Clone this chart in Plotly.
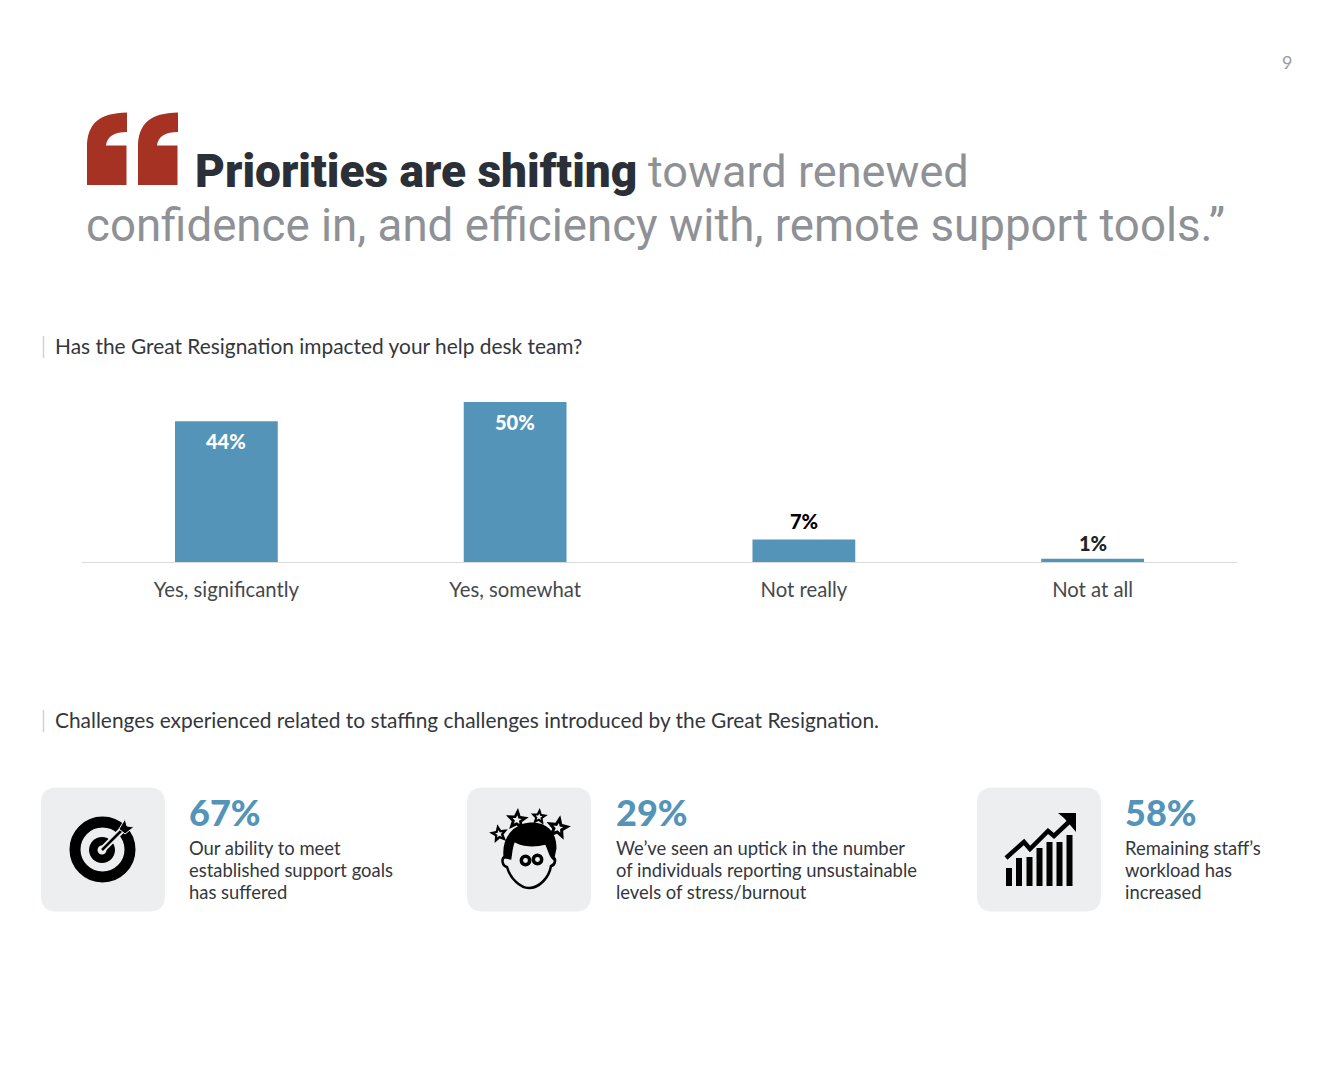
import math
import plotly.graph_objects as go

# Survey data
CATEGORIES = ["Yes, significantly", "Yes, somewhat", "Not really", "Not at all"]
VALUES = [44, 50, 7, 1]
BAR_LABELS = ["44%", "50%", "7%", "1%"]
LABEL_COLORS = ["white", "white", "black", "#222222"]

STAT_VALUES = ["67%", "29%", "58%"]
STAT_TEXTS = [
    "Our ability to meet<br>established support goals<br>has suffered",
    "We’ve seen an uptick in the number<br>of individuals reporting unsustainable<br>levels of stress/burnout",
    "Remaining staff’s<br>workload has<br>increased",
]
STAT_X = [189, 616, 1125]
CARD_X = [41, 467, 977]

W, H = 1331, 1080
BLUE = "#5494b9"
RED = "#a63223"
DARK = "#2b3038"
GREY = "#8e9195"
CARD = "#edeef0"
CLEAR = "rgba(0,0,0,0)"
TITLE_FONT = "Roboto"
BODY_FONT = "Lato"


def rounded_rect(x, y, size, r):
    return (f"M{x+r},{y} H{x+size-r} Q{x+size},{y} {x+size},{y+r} V{y+size-r} "
            f"Q{x+size},{y+size} {x+size-r},{y+size} H{x+r} Q{x},{y+size} {x},{y+size-r} "
            f"V{y+r} Q{x},{y} {x+r},{y} Z")


def circle(cx, cy, r):
    # shape paths do not take arcs, so four cubic segments
    k = 0.5523 * r
    return (f"M{cx-r},{cy} C{cx-r},{cy-k} {cx-k},{cy-r} {cx},{cy-r} "
            f"C{cx+k},{cy-r} {cx+r},{cy-k} {cx+r},{cy} "
            f"C{cx+r},{cy+k} {cx+k},{cy+r} {cx},{cy+r} "
            f"C{cx-k},{cy+r} {cx-r},{cy+k} {cx-r},{cy} Z")


def star(cx, cy, r, rot=0):
    pts = []
    for k in range(10):
        rad = r if k % 2 == 0 else r * 0.45
        a = math.radians(-90 + rot + k * 36)
        pts.append(f"{cx + rad * math.cos(a):.1f},{cy + rad * math.sin(a):.1f}")
    return "M" + " L".join(pts) + " Z"


fig = go.Figure()

fig.add_trace(go.Bar(
    x=CATEGORIES,
    y=VALUES,
    width=0.356,
    marker=dict(color=BLUE, line=dict(width=0)),
    hoverinfo="skip",
))

# Invisible overlay in page pixels, used for the page furniture
fig.add_trace(go.Scatter(x=[0, W], y=[H, 0], xaxis="x2", yaxis="y2", mode="markers",
                         marker=dict(opacity=0), hoverinfo="skip", showlegend=False))

shapes = []


def add_path(path, fill, line_color=None, line_width=0, layer="above"):
    shapes.append(dict(type="path", path=path, xref="x2", yref="y2", fillcolor=fill,
                       line=dict(color=line_color or fill, width=line_width), layer=layer))


def add_line(x0, y0, x1, y1, color, width):
    shapes.append(dict(type="line", x0=x0, y0=y0, x1=x1, y1=y1, xref="x2", yref="y2",
                       line=dict(color=color, width=width), layer="above"))


# Big quote mark
for qx in [87, 138]:
    add_path(f"M{qx},185 V147 C{qx},124 {qx+12},113 {qx+40},112.5 V132 C{qx+28},132 {qx+20},136 {qx+19},145.5 "
             f"H{qx+39.5} V185 Z", RED)

# Section ticks
add_line(43.5, 336, 43.5, 358, "#d0d2d4", 1.5)
add_line(43.5, 710, 43.5, 732, "#d0d2d4", 1.5)

# Cards
for cx in CARD_X:
    add_path(rounded_rect(cx, 787.5, 124, 16), CARD)

# Target icon
add_path(circle(102.5, 849.5, 27.5), CLEAR, "black", 11)
add_path(circle(102, 850, 13), "black")
add_path(circle(102, 850, 4.5), CARD)
add_line(102, 850, 127, 825, CARD, 6.5)
add_line(102, 850, 124, 828, "black", 2.5)
add_path("M119,829 L125,819 L127,826 L134,827 L125,834 Z", "black", CARD, 1)

# Head icon
add_path("M505,857 C503,838 515,825 530,824 C545,823 555,832 555,848 L553,858 "
         "C550,855 549,848 546,843 C535,846 522,846 514,840 C511,846 511,852 510,858 Z", "black", "black", 3)
add_path("M505,857 C501,858 502,866 507,867 C510,878 520,888 529,888 C539,888 549,878 551,866 "
         "C556,865 556,857 553,858", CLEAR, "black", 2.5)
add_path(circle(525.5, 860.5, 4.2), CLEAR, "black", 3.5)
add_path(circle(537.5, 859.5, 4.2), CLEAR, "black", 3.5)
for sx, sy, sr, rot in [(499, 834, 10, -10), (517, 820, 12, 5), (539, 817, 9, 5), (558, 828, 13, 10)]:
    add_path(star(sx, sy, sr, rot), "black")
    add_path(star(sx, sy, sr * 0.4, rot), CARD)

# Growth chart icon
for bx, top in zip([1006, 1016, 1026.5, 1036.5, 1046.5, 1056.5, 1066.5],
                   [868, 858, 857, 848, 842, 842, 835]):
    shapes.append(dict(type="rect", x0=bx, x1=bx + 6, y0=top, y1=886, xref="x2", yref="y2",
                       fillcolor="black", line=dict(width=0), layer="above"))
add_path("M1006,858 L1024,842 L1030,849 L1048,831 L1054,836 L1071,820", CLEAR, "black", 4.5)
add_path("M1058,813 H1076 V832 L1071,826 L1064,818 Z", "black")

annotations = []


def add_text(x, y, text, size, color, family=BODY_FONT, anchor="left", weight=None):
    font = dict(family=family, size=size, color=color)
    if weight:
        font["weight"] = weight
    annotations.append(dict(x=x, y=y, xref="x2", yref="y2", text=text, showarrow=False,
                            xanchor=anchor, yanchor="middle", align="left",
                            font=font, borderpad=0, borderwidth=0))


add_text(1287, 62, "9", 18, "#9a9c9f", anchor="center")
add_text(195, 171, "Priorities are shifting", 46, DARK, family=TITLE_FONT, weight=900)
add_text(648, 171, "toward renewed", 45.1, GREY, family=TITLE_FONT)
add_text(86, 225, "confidence in, and efficiency with, remote support tools.”", 45.65, GREY, family=TITLE_FONT)
add_text(55, 345, "Has the Great Resignation impacted your help desk team?", 20.9, "#33373d")
add_text(55, 719.5, "Challenges experienced related to staffing challenges introduced by the Great Resignation.",
         20.9, "#33373d")

for sx, value, txt in zip(STAT_X, STAT_VALUES, STAT_TEXTS):
    add_text(sx, 812, value, 36, BLUE, weight=900)
    for k, line in enumerate(txt.split("<br>")):
        add_text(sx, 847.5 + k * 22.3, line, 18.4, "#33373d")

# Value labels sit inside the tall bars and above the short ones
for cat, val, lab, col in zip(CATEGORIES, VALUES, BAR_LABELS, LABEL_COLORS):
    shift = -20 if val > 20 else (19 if val > 5 else 16)
    annotations.append(dict(x=cat, y=val, xref="x", yref="y", text=lab, showarrow=False,
                            xanchor="center", yanchor="middle", yshift=shift,
                            font=dict(family=BODY_FONT, size=20, color=col, weight=900)))

fig.update_layout(
    width=W,
    height=H,
    margin=dict(l=0, r=0, t=0, b=0),
    paper_bgcolor="white",
    plot_bgcolor="rgba(0,0,0,0)",
    showlegend=False,
    shapes=shapes,
    annotations=annotations,
    xaxis=dict(domain=[82 / W, 1237 / W], showgrid=False, showline=True, linecolor="#d9dadc", linewidth=1,
               ticks="", ticklabelstandoff=10, tickfont=dict(family=BODY_FONT, size=20.3, color="#44484e")),
    yaxis=dict(domain=[(H - 562) / H, (H - 402) / H], range=[0, 50], visible=False),
    xaxis2=dict(domain=[0, 1], range=[0, W], anchor="y2", visible=False),
    yaxis2=dict(domain=[0, 1], range=[H, 0], anchor="x2", visible=False),
)

fig.write_html("out.html", config=dict(displayModeBar=False), post_script="document.body.style.margin='0';")
